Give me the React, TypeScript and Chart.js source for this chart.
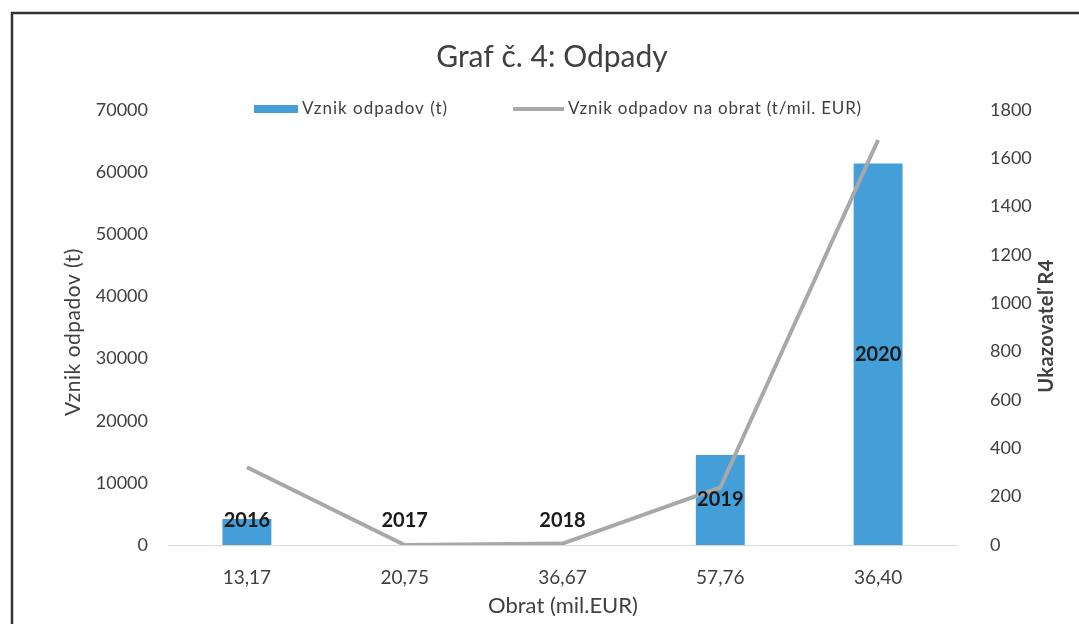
import React, { useEffect, useRef } from 'react';
import { Chart, registerables } from 'chart.js';

Chart.register(...registerables);

const turnoverLabels = ['13,17', '20,75', '36,67', '57,76', '36,40'];
const yearLabels = ['2016', '2017', '2018', '2019', '2020'];
const wasteTonnes = [4200, 0, 0, 14500, 61400];
const r4Values = [322, 0, 6, 238, 1676];

const chartTitle = 'Graf č. 4: Odpady';
const wasteLabel = 'Vznik odpadov (t)';
const r4Label = 'Vznik odpadov na obrat (t/mil. EUR)';
const leftAxisTitle = 'Vznik odpadov (t)';
const rightAxisTitle = 'Ukazovateľ R4';
const xAxisTitle = 'Obrat (mil.EUR)';

const FONT = 'Lato, "Open Sans", sans-serif';
const BAR_COLOR = '#449ed8';
const LINE_COLOR = '#a8a8a8';
const TEXT_COLOR = '#404040';

const decorPlugin = {
  id: 'decor',
  beforeDraw(chart: any) {
    const ctx = chart.ctx;
    ctx.save();
    ctx.fillStyle = '#ffffff';
    ctx.fillRect(0, 0, chart.width, chart.height);
    ctx.strokeStyle = '#333333';
    ctx.lineWidth = 2.5;
    ctx.beginPath();
    ctx.moveTo(12, chart.height);
    ctx.lineTo(12, 13);
    ctx.lineTo(chart.width, 13);
    ctx.stroke();
    ctx.restore();
  },
  afterDatasetsDraw(chart: any) {
    const ctx = chart.ctx;
    const meta = chart.getDatasetMeta(1);
    ctx.save();
    ctx.font = `bold 20px ${FONT}`;
    ctx.fillStyle = '#1a1a1a';
    ctx.textAlign = 'center';
    ctx.textBaseline = 'middle';
    meta.data.forEach((bar: any, i: number) => {
      const center = (bar.y + bar.base) / 2;
      const y = Math.min(center, bar.base - 24);
      ctx.fillText(yearLabels[i], bar.x, y);
    });
    ctx.restore();
  },
  afterDraw(chart: any) {
    const ctx = chart.ctx;
    ctx.save();
    ctx.fillStyle = TEXT_COLOR;
    ctx.textAlign = 'center';
    ctx.textBaseline = 'middle';
    ctx.font = `30px ${FONT}`;
    ctx.fillText(chartTitle, 552, 57);

    // legend
    ctx.font = `17px ${FONT}`;
    ctx.textAlign = 'left';
    ctx.fillStyle = BAR_COLOR;
    ctx.fillRect(254, 105, 44, 8);
    ctx.fillStyle = TEXT_COLOR;
    (ctx as any).letterSpacing = '1px';
    ctx.fillText(chart.data.datasets[1].label, 302, 109);
    ctx.strokeStyle = LINE_COLOR;
    ctx.lineWidth = 4;
    ctx.beginPath();
    ctx.moveTo(513, 109);
    ctx.lineTo(564, 109);
    ctx.stroke();
    (ctx as any).letterSpacing = '0.8px';
    ctx.fillText(chart.data.datasets[0].label, 568, 109);
    (ctx as any).letterSpacing = '0px';

    // axis titles
    ctx.textAlign = 'center';
    ctx.save();
    ctx.font = `21px ${FONT}`;
    (ctx as any).letterSpacing = '0.5px';
    ctx.translate(73, 332);
    ctx.rotate(-Math.PI / 2);
    ctx.fillText(leftAxisTitle, 0, 0);
    ctx.restore();

    ctx.save();
    ctx.font = `bold 20px ${FONT}`;
    (ctx as any).letterSpacing = '0.4px';
    ctx.translate(1047, 326);
    ctx.rotate(-Math.PI / 2);
    ctx.fillText(rightAxisTitle, 0, 0);
    ctx.restore();

    ctx.font = `22px ${FONT}`;
    ctx.fillText(xAxisTitle, 563, 606);
    ctx.restore();
  },
};

export default function App() {
  const canvasRef = useRef<HTMLCanvasElement | null>(null);

  useEffect(() => {
    if (!canvasRef.current) return;
    const plainTick = (v: any) => String(v);
    const chart = new Chart(canvasRef.current, {
      type: 'bar',
      data: {
        labels: turnoverLabels,
        datasets: [
          {
            type: 'line',
            label: r4Label,
            data: r4Values,
            yAxisID: 'y1',
            borderColor: LINE_COLOR,
            backgroundColor: LINE_COLOR,
            borderWidth: 4,
            pointRadius: 0,
            tension: 0,
            order: 0,
          } as any,
          {
            type: 'bar',
            label: wasteLabel,
            data: wasteTonnes,
            yAxisID: 'y',
            backgroundColor: BAR_COLOR,
            barPercentage: 0.31,
            categoryPercentage: 1,
            order: 1,
          },
        ],
      },
      options: {
        responsive: false,
        animation: false,
        layout: { padding: { top: 110, bottom: 0, left: 0, right: 0 } },
        plugins: {
          legend: { display: false },
          title: { display: false },
          tooltip: { enabled: false },
        },
        scales: {
          x: {
            offset: true,
            grid: { display: false, drawTicks: false },
            border: { display: true, color: '#d9d9d9', width: 1 },
            ticks: { color: TEXT_COLOR, font: { family: FONT, size: 19 }, padding: 21 },
            afterFit(scale: any) {
              scale.height = 79;
            },
          },
          y: {
            position: 'left',
            min: 0,
            max: 70000,
            grid: { display: false, drawTicks: false },
            border: { display: false },
            ticks: { stepSize: 10000, color: TEXT_COLOR, font: { family: FONT, size: 18 }, padding: 20, callback: plainTick },
            afterFit(scale: any) {
              scale.width = 168;
            },
          },
          y1: {
            position: 'right',
            min: 0,
            max: 1800,
            grid: { display: false, drawTicks: false },
            border: { display: false },
            ticks: { stepSize: 200, color: TEXT_COLOR, font: { family: FONT, size: 18 }, padding: 33, callback: plainTick },
            afterFit(scale: any) {
              scale.width = 122;
            },
          },
        },
      },
      plugins: [decorPlugin],
    });
    return () => chart.destroy();
  }, []);

  return (
    <div style={{ position: 'absolute', left: 0, top: 0, width: 1079, height: 624 }}>
      <canvas ref={canvasRef} width={1079} height={624} style={{ display: 'block' }} />
    </div>
  );
}
